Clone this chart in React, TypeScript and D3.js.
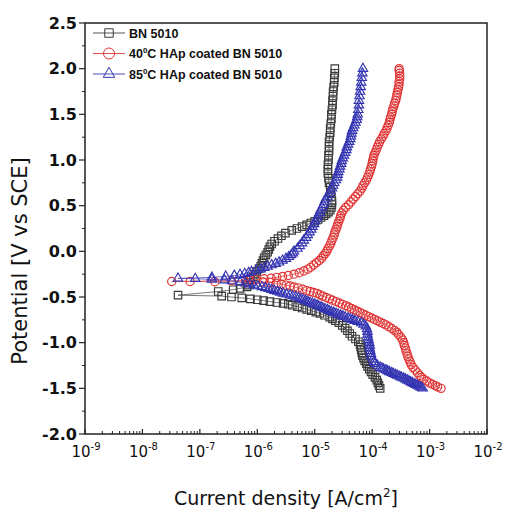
import React from 'react';
import * as d3 from 'd3';

// log10 of current density [A/cm2], potential [V vs SCE], in scan order
const bn5010: [number, number][] = [
  [-3.86,-1.50],[-3.88,-1.47],[-3.90,-1.44],[-3.92,-1.41],[-3.95,-1.38],[-3.99,-1.35],[-4.02,-1.32],[-4.05,-1.29],
  [-4.08,-1.26],[-4.10,-1.23],[-4.13,-1.20],[-4.15,-1.17],[-4.17,-1.14],[-4.18,-1.11],[-4.19,-1.08],[-4.20,-1.05],
  [-4.21,-1.02],[-4.24,-0.99],[-4.29,-0.96],[-4.35,-0.93],[-4.39,-0.90],[-4.43,-0.87],[-4.47,-0.84],[-4.52,-0.81],
  [-4.58,-0.78],[-4.64,-0.76],[-4.69,-0.74],[-4.74,-0.72],[-4.83,-0.70],[-4.91,-0.68],[-4.98,-0.665],[-5.06,-0.65],
  [-5.14,-0.635],[-5.22,-0.62],[-5.30,-0.605],[-5.39,-0.59],[-5.46,-0.58],[-5.55,-0.57],[-5.66,-0.56],[-5.78,-0.55],
  [-5.89,-0.54],[-6.00,-0.53],[-6.12,-0.52],[-6.27,-0.51],[-6.45,-0.50],[-6.62,-0.49],[-7.38,-0.48],[-6.68,-0.44],
  [-6.42,-0.42],[-6.30,-0.405],[-6.18,-0.39],[-6.16,-0.37],[-6.13,-0.34],[-6.11,-0.31],[-6.07,-0.28],[-6.04,-0.25],
  [-6.01,-0.22],[-5.97,-0.19],[-5.94,-0.16],[-5.92,-0.13],[-5.90,-0.10],[-5.88,-0.07],[-5.85,-0.04],[-5.82,-0.01],
  [-5.80,0.02],[-5.78,0.05],[-5.75,0.08],[-5.70,0.11],[-5.64,0.14],[-5.58,0.17],[-5.51,0.20],[-5.40,0.23],
  [-5.31,0.25],[-5.22,0.27],[-5.14,0.29],[-5.07,0.31],[-5.00,0.33],[-4.94,0.35],[-4.89,0.37],[-4.84,0.39],
  [-4.80,0.41],[-4.76,0.43],[-4.73,0.45],[-4.71,0.48],[-4.70,0.51],[-4.70,0.55],[-4.71,0.60],[-4.72,0.65],
  [-4.73,0.70],[-4.75,0.75],[-4.76,0.80],[-4.77,0.85],[-4.77,0.90],[-4.77,0.95],[-4.76,1.00],[-4.76,1.05],
  [-4.75,1.10],[-4.75,1.15],[-4.75,1.20],[-4.74,1.25],[-4.73,1.30],[-4.73,1.35],[-4.72,1.40],[-4.71,1.45],
  [-4.71,1.50],[-4.70,1.55],[-4.69,1.60],[-4.69,1.65],[-4.68,1.70],[-4.68,1.75],[-4.67,1.80],[-4.66,1.85],
  [-4.66,1.90],[-4.65,1.95],[-4.65,2.00],
];

const hap40: [number, number][] = [
  [-2.80,-1.50],[-2.86,-1.485],[-2.90,-1.47],[-2.95,-1.455],[-3.00,-1.44],[-3.05,-1.42],[-3.10,-1.40],[-3.14,-1.38],
  [-3.17,-1.36],[-3.21,-1.33],[-3.25,-1.30],[-3.29,-1.27],[-3.32,-1.24],[-3.34,-1.21],[-3.36,-1.18],[-3.38,-1.15],
  [-3.39,-1.12],[-3.41,-1.09],[-3.42,-1.06],[-3.44,-1.03],[-3.45,-1.00],[-3.47,-0.97],[-3.50,-0.94],[-3.54,-0.91],
  [-3.57,-0.885],[-3.61,-0.865],[-3.66,-0.845],[-3.71,-0.825],[-3.76,-0.805],[-3.81,-0.79],[-3.86,-0.775],[-3.91,-0.76],
  [-3.96,-0.745],[-4.01,-0.73],[-4.06,-0.715],[-4.11,-0.70],[-4.16,-0.685],[-4.21,-0.67],[-4.26,-0.655],[-4.31,-0.64],
  [-4.36,-0.625],[-4.41,-0.61],[-4.46,-0.595],[-4.52,-0.58],[-4.57,-0.565],[-4.63,-0.55],[-4.69,-0.535],[-4.74,-0.52],
  [-4.80,-0.505],[-4.86,-0.49],[-4.91,-0.475],[-4.96,-0.46],[-5.02,-0.45],[-5.08,-0.44],[-5.14,-0.43],[-5.21,-0.415],
  [-5.29,-0.40],[-5.36,-0.39],[-5.43,-0.38],[-5.50,-0.37],[-5.58,-0.36],[-5.67,-0.35],[-5.78,-0.34],[-5.90,-0.335],
  [-6.20,-0.333],[-6.74,-0.333],[-7.17,-0.33],[-7.49,-0.33],
  [-6.45,-0.322],[-6.13,-0.318],[-6.02,-0.31],[-5.88,-0.30],[-5.76,-0.295],[-5.66,-0.285],[-5.56,-0.275],[-5.46,-0.265],
  [-5.36,-0.25],[-5.27,-0.235],[-5.19,-0.215],[-5.12,-0.195],[-5.07,-0.175],[-5.02,-0.15],[-4.97,-0.125],[-4.92,-0.10],
  [-4.88,-0.075],[-4.85,-0.05],[-4.82,-0.025],[-4.79,0.00],[-4.77,0.03],[-4.74,0.06],[-4.72,0.09],[-4.70,0.12],
  [-4.68,0.15],[-4.66,0.18],[-4.65,0.21],[-4.63,0.24],[-4.61,0.27],[-4.60,0.30],[-4.58,0.33],[-4.56,0.36],
  [-4.55,0.39],[-4.53,0.42],[-4.50,0.45],[-4.46,0.48],[-4.41,0.51],[-4.37,0.54],[-4.33,0.57],[-4.29,0.60],
  [-4.25,0.63],[-4.21,0.66],[-4.18,0.69],[-4.16,0.72],[-4.13,0.75],[-4.10,0.78],[-4.08,0.81],[-4.06,0.84],
  [-4.04,0.87],[-4.03,0.90],[-4.01,0.93],[-4.00,0.96],[-3.99,0.99],[-3.98,1.02],[-3.97,1.05],[-3.95,1.08],
  [-3.93,1.11],[-3.91,1.14],[-3.89,1.17],[-3.87,1.20],[-3.84,1.23],[-3.81,1.26],[-3.79,1.29],[-3.76,1.32],
  [-3.74,1.35],[-3.72,1.38],[-3.70,1.41],[-3.69,1.44],[-3.68,1.47],[-3.66,1.50],[-3.65,1.53],[-3.64,1.56],
  [-3.62,1.59],[-3.61,1.62],[-3.59,1.65],[-3.58,1.68],[-3.57,1.71],[-3.56,1.74],[-3.55,1.77],[-3.54,1.80],
  [-3.53,1.83],[-3.53,1.86],[-3.52,1.89],[-3.52,1.92],[-3.52,1.95],[-3.53,1.98],[-3.53,2.00],
];

const hap85: [number, number][] = [
  [-3.12,-1.50],[-3.15,-1.49],[-3.18,-1.48],[-3.21,-1.47],[-3.24,-1.46],[-3.27,-1.45],[-3.30,-1.44],[-3.33,-1.43],
  [-3.36,-1.42],[-3.39,-1.41],[-3.42,-1.40],[-3.45,-1.39],[-3.49,-1.38],[-3.52,-1.37],[-3.56,-1.36],[-3.59,-1.35],
  [-3.63,-1.34],[-3.66,-1.33],[-3.70,-1.32],[-3.73,-1.31],[-3.76,-1.30],[-3.80,-1.29],[-3.83,-1.28],[-3.86,-1.27],
  [-3.91,-1.25],[-3.95,-1.23],[-3.97,-1.21],[-3.99,-1.18],[-4.01,-1.15],[-4.02,-1.12],[-4.03,-1.09],[-4.04,-1.06],
  [-4.04,-1.03],[-4.05,-1.00],[-4.06,-0.97],[-4.07,-0.94],[-4.08,-0.91],[-4.08,-0.88],[-4.09,-0.85],[-4.11,-0.82],
  [-4.15,-0.80],[-4.19,-0.785],[-4.25,-0.77],[-4.30,-0.76],[-4.34,-0.75],[-4.38,-0.74],[-4.42,-0.73],[-4.47,-0.72],
  [-4.51,-0.71],[-4.55,-0.70],[-4.59,-0.69],[-4.63,-0.68],[-4.67,-0.67],[-4.71,-0.66],[-4.75,-0.65],[-4.78,-0.64],
  [-4.82,-0.63],[-4.86,-0.62],[-4.89,-0.61],[-4.93,-0.60],[-4.96,-0.59],[-5.00,-0.58],[-5.04,-0.57],[-5.08,-0.56],
  [-5.12,-0.55],[-5.16,-0.54],[-5.20,-0.53],[-5.24,-0.52],[-5.28,-0.51],[-5.33,-0.50],[-5.38,-0.49],[-5.43,-0.48],
  [-5.49,-0.47],[-5.55,-0.46],[-5.60,-0.45],[-5.65,-0.44],[-5.70,-0.43],[-5.75,-0.42],[-5.80,-0.41],[-5.86,-0.40],
  [-5.92,-0.39],[-5.99,-0.38],[-6.06,-0.37],[-6.13,-0.36],[-6.21,-0.35],[-6.30,-0.34],[-6.44,-0.325],[-6.57,-0.315],
  [-6.79,-0.307],[-7.08,-0.30],[-7.38,-0.296],
  [-6.79,-0.285],[-6.55,-0.274],[-6.40,-0.265],[-6.30,-0.255],[-6.22,-0.245],[-6.15,-0.235],[-6.10,-0.225],[-6.02,-0.21],
  [-5.94,-0.195],[-5.88,-0.18],[-5.82,-0.165],[-5.75,-0.15],[-5.68,-0.135],[-5.62,-0.12],[-5.56,-0.10],[-5.50,-0.08],
  [-5.45,-0.06],[-5.41,-0.04],[-5.38,-0.02],[-5.36,0.00],[-5.30,0.03],[-5.26,0.06],[-5.22,0.09],[-5.19,0.12],
  [-5.15,0.15],[-5.12,0.18],[-5.09,0.21],[-5.06,0.24],[-5.04,0.27],[-5.01,0.30],[-4.99,0.33],[-4.96,0.36],
  [-4.94,0.39],[-4.92,0.42],[-4.90,0.45],[-4.87,0.48],[-4.85,0.51],[-4.83,0.54],[-4.81,0.57],[-4.78,0.60],
  [-4.75,0.63],[-4.73,0.66],[-4.70,0.69],[-4.68,0.72],[-4.66,0.75],[-4.63,0.78],[-4.61,0.81],[-4.60,0.84],
  [-4.59,0.87],[-4.57,0.90],[-4.56,0.93],[-4.54,0.96],[-4.53,0.99],[-4.51,1.02],[-4.49,1.05],[-4.47,1.08],
  [-4.45,1.11],[-4.44,1.14],[-4.42,1.17],[-4.40,1.20],[-4.38,1.23],[-4.37,1.26],[-4.36,1.29],[-4.35,1.32],
  [-4.33,1.35],[-4.31,1.38],[-4.29,1.41],[-4.27,1.44],[-4.26,1.47],[-4.25,1.50],[-4.24,1.55],[-4.23,1.60],
  [-4.23,1.65],[-4.22,1.70],[-4.21,1.75],[-4.20,1.80],[-4.19,1.85],[-4.18,1.90],[-4.17,1.95],[-4.16,2.00],
];

const xDecades = [-9, -8, -7, -6, -5, -4, -3, -2];
const yTicks = [-2.0, -1.5, -1.0, -0.5, 0.0, 0.5, 1.0, 1.5, 2.0, 2.5];
const yMinorTicks = [-1.75, -1.25, -0.75, -0.25, 0.25, 0.75, 1.25, 1.75, 2.25];
const legendNames = [
  { pre: 'BN 5010', sup: '', post: '' },
  { pre: '40', sup: '0', post: 'C HAp coated BN 5010' },
  { pre: '85', sup: '0', post: 'C HAp coated BN 5010' },
];

const W = 505, H = 512;
const X0 = 85, X1 = 487, Y0 = 434, Y1 = 23;

const x = d3.scaleLog().domain([1e-9, 1e-2]).range([X0, X1]);
const y = d3.scaleLinear().domain([-2, 2.5]).range([Y0, Y1]);

const series = [
  { data: bn5010, color: '#3a3a3a', line: '#555555', shape: 'square' },
  { data: hap40, color: '#e03434', line: '#e05050', shape: 'circle' },
  { data: hap85, color: '#3434b2', line: '#4a4ac0', shape: 'triangle' },
];

const lineGen = d3.line<[number, number]>().x(d => x(Math.pow(10, d[0]))).y(d => y(d[1]));
const squarePath = d3.symbol().type(d3.symbolSquare).size(56)()!;
const trianglePath = d3.symbol().type(d3.symbolTriangle).size(38)()!;
const squareLeg = d3.symbol().type(d3.symbolSquare).size(72)()!;
const triangleLeg = d3.symbol().type(d3.symbolTriangle).size(58)()!;

function Marker({ shape, color, cx, cy, legend }: { shape: string; color: string; cx: number; cy: number; legend?: boolean }) {
  const sw = legend ? 1 : 1.15;
  if (shape === 'circle') {
    return <circle cx={cx} cy={cy} r={legend ? 5.5 : 4.1} fill="none" stroke={color} strokeWidth={sw} />;
  }
  const p = shape === 'square' ? (legend ? squareLeg : squarePath) : (legend ? triangleLeg : trianglePath);
  return <path d={p} transform={`translate(${cx},${cy})`} fill="none" stroke={color} strokeWidth={sw} />;
}

export default function App() {
  const minor: number[] = [];
  xDecades.slice(0, -1).forEach(d => {
    for (let k = 2; k <= 9; k++) minor.push(k * Math.pow(10, d));
  });
  const font = 'DejaVu Sans, Verdana, sans-serif';
  return (
    <svg width={W} height={H} style={{ position: 'absolute', left: 0, top: 0, background: '#fff' }}>
      {series.map((s, i) => (
        <g key={i}>
          <path d={lineGen(s.data)!} fill="none" stroke={s.line} strokeWidth={0.8} />
          {s.data.map((d, j) => (
            <Marker key={j} shape={s.shape} color={s.color} cx={x(Math.pow(10, d[0]))} cy={y(d[1])} />
          ))}
        </g>
      ))}
      <rect x={X0} y={Y1} width={X1 - X0} height={Y0 - Y1} fill="none" stroke="#222" strokeWidth={1.5} />
      {xDecades.map(d => (
        <line key={'xm' + d} x1={x(Math.pow(10, d))} x2={x(Math.pow(10, d))} y1={Y0} y2={Y0 - 5} stroke="#222" strokeWidth={1.2} />
      ))}
      {minor.map((v, i) => (
        <line key={'xn' + i} x1={x(v)} x2={x(v)} y1={Y0} y2={Y0 - 3} stroke="#222" strokeWidth={1} />
      ))}
      {xDecades.map(d => (
        <text key={'xl' + d} x={x(Math.pow(10, d)) + 1} y={457} textAnchor="middle" fontFamily={font} fontSize={15} fill="#111">
          10<tspan dy={-7} fontSize={10}>{String(d)}</tspan>
        </text>
      ))}
      {yTicks.map(t => (
        <line key={'ym' + t} x1={X0} x2={X0 - 6} y1={y(t)} y2={y(t)} stroke="#222" strokeWidth={1.2} />
      ))}
      {yMinorTicks.map(t => (
        <line key={'yn' + t} x1={X0} x2={X0 - 3} y1={y(t)} y2={y(t)} stroke="#222" strokeWidth={1} />
      ))}
      {yTicks.map(t => (
        <text key={'yl' + t} x={77} y={y(t)} dy="0.36em" textAnchor="end" fontFamily={font} fontWeight="bold" fontSize={16} fill="#111">
          {t.toFixed(1)}
        </text>
      ))}
      <text x={286} y={505} textAnchor="middle" fontFamily={font} fontSize={19} fill="#111">
        Current density [A/cm<tspan dy={-8} fontSize={12}>2</tspan><tspan dy={8}>]</tspan>
      </text>
      <text transform="translate(27,261) rotate(-90)" textAnchor="middle" fontFamily={font} fontSize={21} fill="#111">
        Potential [V vs SCE]
      </text>
      {series.map((s, i) => {
        const ly = 33 + i * 20.5;
        const n = legendNames[i];
        return (
          <g key={'lg' + i}>
            <line x1={93} x2={125} y1={ly} y2={ly} stroke={s.line} strokeWidth={1} />
            <Marker shape={s.shape} color={s.color} cx={109} cy={ly} legend />
            <text x={129} y={ly + 4.5} fontFamily="Liberation Sans, Arial, sans-serif" fontWeight="bold" fontSize={12.5} fill="#111">
              {n.pre}
              {n.sup && <tspan dy={-5} fontSize={8}>{n.sup}</tspan>}
              {n.sup && <tspan dy={5}>{n.post}</tspan>}
            </text>
          </g>
        );
      })}
    </svg>
  );
}
